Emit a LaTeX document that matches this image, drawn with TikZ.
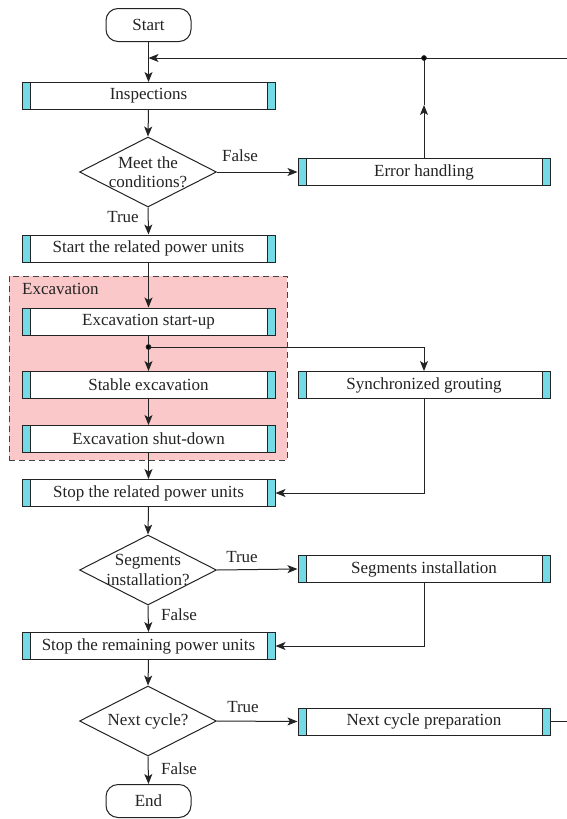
\documentclass[tikz,border=0pt]{standalone}
\usepackage{fontspec}
\setmainfont{Liberation Serif}
\usetikzlibrary{shapes.geometric,arrows.meta}
\definecolor{barcol}{RGB}{115,218,230}
\definecolor{pinkbg}{RGB}{250,200,200}
\definecolor{ln}{RGB}{35,35,35}
\begin{document}
\begin{tikzpicture}[x=1pt,y=-1pt,
  font=\fontsize{17}{18}\selectfont, text=ln,
  proc/.style={draw=ln, line width=1pt, fill=white, minimum width=253pt, minimum height=27pt, inner sep=0pt,
    path picture={
      \fill[barcol] (path picture bounding box.south west) rectangle ([xshift=8pt]path picture bounding box.north west);
      \fill[barcol] (path picture bounding box.south east) rectangle ([xshift=-8pt]path picture bounding box.north east);
      \draw[ln, line width=1pt] ([xshift=8pt]path picture bounding box.south west) -- ([xshift=8pt]path picture bounding box.north west);
      \draw[ln, line width=1pt] ([xshift=-8pt]path picture bounding box.south east) -- ([xshift=-8pt]path picture bounding box.north east);
    }},
  term/.style={draw=ln, line width=1pt, fill=white, rounded corners=12pt, minimum width=85pt, minimum height=33pt, inner sep=0pt},
  dec/.style={draw=ln, line width=1pt, fill=white, diamond, aspect=1.95, minimum width=137pt, minimum height=70pt, inner sep=0pt},
  dectext/.style={inner sep=0pt, align=center, font=\fontsize{17}{19.5}\selectfont},
  arr/.style={-{Stealth[length=10pt,width=8pt,inset=2.5pt]}, draw=ln, line width=1pt},
  ln/.style={draw=ln, line width=1pt},
  lab/.style={inner sep=0pt}
]
\useasboundingbox (0,0) rectangle (567,819);

% Excavation group box
\node[draw=ln!85, line width=1pt, dash pattern=on 6pt off 4pt, fill=pinkbg, minimum width=278pt, minimum height=184pt, inner sep=0pt] (excbox) at (148,368) {};
\node[lab, anchor=west] (exclabel) at (22,289) {Excavation};

% Nodes
\node[term] (start) at (148.5,25) {Start};
\node[proc] (insp) at (148.5,96) {Inspections};
\node[dec] (d1) at (148,172) {};
\node[dectext] (d1t) at (d1.center) {Meet the\\conditions?};
\node[proc, minimum width=252pt] (err) at (424,172) {Error handling};
\node[proc] (srp) at (148.5,248.5) {Start the related power units};
\node[proc] (esu) at (148.5,321.5) {Excavation start-up};
\node[proc] (se) at (148.5,385) {Stable excavation};
\node[proc] (esd) at (148.5,439) {Excavation shut-down};
\node[proc, minimum width=252pt] (sg) at (424,385) {Synchronized grouting};
\node[proc] (strp) at (148.5,493) {Stop the related power units};
\node[dec] (d2) at (148,570) {};
\node[dectext] (d2t) at (d2.center) {Segments\\installation?};
\node[proc, minimum width=252pt] (si) at (424,569) {Segments installation};
\node[proc] (srem) at (148.5,646) {Stop the remaining power units};
\node[dec] (d3) at (148,721) {};
\node[dectext] (d3t) at (d3.center) {Next cycle?};
\node[proc, minimum width=252pt] (ncp) at (424,721.5) {Next cycle preparation};
\node[term] (end) at (148.5,801) {End};

% Coordinates
\coordinate (rtop) at (567,58);
\coordinate (mtop) at (148.5,58);
\coordinate (edot) at (424,58);
\coordinate (emid) at (424,105);
\coordinate (sdot) at (148.5,347);
\coordinate (sgturn) at (424,347);
\coordinate (sgdown) at (424,493);
\coordinate (sidown) at (424,646);
\coordinate (rbot) at (567,721.5);

% Connectors
\draw[arr] (start.south) -- (insp.north);
\draw[arr] (rtop) -- (mtop);
\draw[arr] (insp.south) -- (d1.north);
\draw[arr] (d1.east) -- (err.west);
\draw[arr] (err.north) -- (emid);
\draw[ln] (emid) -- (edot);
\fill[ln] (edot) circle (2.3pt);
\draw[arr] (d1.south) -- (srp.north);
\draw[arr] (srp.south) -- (esu.north);
\draw[arr] (esu.south) -- (se.north);
\fill[ln] (sdot) circle (2.3pt);
\draw[arr] (sdot) -- (sgturn) -- (sg.north);
\draw[arr] (se.south) -- (esd.north);
\draw[arr] (esd.south) -- (strp.north);
\draw[arr] (sg.south) -- (sgdown) -- (strp.east);
\draw[arr] (strp.south) -- (d2.north);
\draw[arr] (d2.east) -- (si.west);
\draw[arr] (d2.south) -- (srem.north);
\draw[arr] (si.south) -- (sidown) -- (srem.east);
\draw[arr] (srem.south) -- (d3.north);
\draw[arr] (d3.east) -- (ncp.west);
\draw[arr] (d3.south) -- (end.north);
\draw[ln] (ncp.east) -- (rbot);

% Labels
\node[lab] (f1) at (240,156) {False};
\node[lab] (t1) at (123,217) {True};
\node[lab] (t2) at (242,557) {True};
\node[lab] (f2) at (179,615) {False};
\node[lab] (t3) at (243,707) {True};
\node[lab] (f3) at (179,769) {False};
\end{tikzpicture}
\end{document}
